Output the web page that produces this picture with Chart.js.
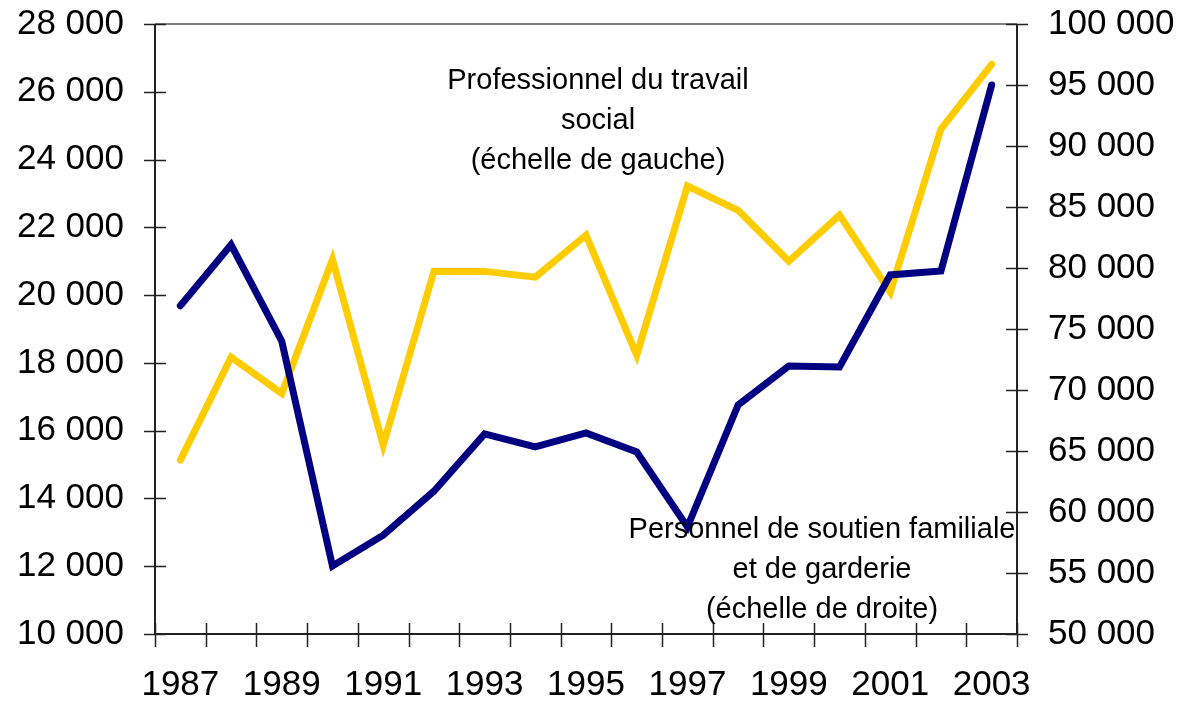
<!DOCTYPE html>
<html>
<head>
<meta charset="utf-8">
<script src="https://cdn.jsdelivr.net/npm/chart.js@4.4.1/dist/chart.umd.min.js"></script>
<style>
    html, body { margin: 0; padding: 0; background: #fff; }
    #wrap { width: 1190px; height: 710px; }
</style>
</head>
<body>
<div id="wrap"><canvas id="chart" width="1190" height="710"></canvas></div>
<script>
const years = ['1987', '1988', '1989', '1990', '1991', '1992', '1993', '1994', '1995',
    '1996', '1997', '1998', '1999', '2000', '2001', '2002', '2003'];

// left scale
const travailSocial = [15130, 18170, 17100, 21050, 15570, 20700, 20700, 20530, 21770,
    18230, 23220, 22500, 21000, 22360, 20090, 24900, 26810];

// right scale
const soutienFamilial = [76900, 81900, 74000, 55570, 58100, 61700, 66400, 65330, 66480,
    64920, 58770, 68770, 71970, 71890, 79430, 79750, 95000];

const leftTicks = { min: 10000, max: 28000, step: 2000 };
const rightTicks = { min: 50000, max: 100000, step: 5000 };

const notes = [
    { lines: ['Professionnel du travail', 'social', '(échelle de gauche)'], x: 598, y: 81 },
    { lines: ['Personnel de soutien familiale', 'et de garderie', '(échelle de droite)'], x: 822, y: 530 }
];

function spaced(v) {
    return String(v).replace(/\B(?=(\d{3})+(?!\d))/g, ' ');
}

const font = '"Liberation Sans", Arial, sans-serif';

// axis lines, crossing ticks, top border and the text notes
const framePlugin = {
    id: 'frame',
    afterDatasetsDraw(chart) {
        const ctx = chart.ctx;
        const a = chart.chartArea;
        const yl = chart.scales.yL, yr = chart.scales.yR;
        ctx.save();

        ctx.strokeStyle = '#808080';
        ctx.lineWidth = 2;
        ctx.beginPath();
        ctx.moveTo(a.left, a.top);
        ctx.lineTo(a.right, a.top);
        ctx.stroke();

        ctx.strokeStyle = '#222';
        ctx.lineWidth = 2;
        ctx.beginPath();
        ctx.moveTo(a.left, a.top);
        ctx.lineTo(a.left, a.bottom);
        ctx.moveTo(a.right, a.top);
        ctx.lineTo(a.right, a.bottom);
        ctx.moveTo(a.left, a.bottom);
        ctx.lineTo(a.right, a.bottom);
        ctx.stroke();

        ctx.lineWidth = 1.5;
        ctx.beginPath();
        for (let v = leftTicks.min; v <= leftTicks.max; v += leftTicks.step) {
            const y = Math.round(yl.getPixelForValue(v)) + 0.5;
            ctx.moveTo(a.left - 11, y);
            ctx.lineTo(a.left + 11, y);
        }
        for (let v = rightTicks.min; v <= rightTicks.max; v += rightTicks.step) {
            const y = Math.round(yr.getPixelForValue(v)) + 0.5;
            ctx.moveTo(a.right - 11, y);
            ctx.lineTo(a.right + 11, y);
        }
        const n = years.length;
        const w = (a.right - a.left) / n;
        for (let i = 0; i <= n; i++) {
            const x = Math.round(a.left + i * w) + 0.5;
            ctx.moveTo(x, a.bottom - 11);
            ctx.lineTo(x, a.bottom + 13);
        }
        ctx.stroke();

        ctx.fillStyle = '#000';
        ctx.font = '29px ' + font;
        ctx.textAlign = 'center';
        ctx.textBaseline = 'middle';
        notes.forEach(note => {
            note.lines.forEach((line, i) => {
                ctx.fillText(line, note.x, note.y + i * 40);
            });
        });
        ctx.restore();
    }
};

const ctx = document.getElementById('chart').getContext('2d');

new Chart(ctx, {
    type: 'line',
    data: {
        labels: years,
        datasets: [{
            label: 'Personnel de soutien familiale et de garderie',
            data: soutienFamilial,
            yAxisID: 'yR',
            borderColor: '#000080',
            borderWidth: 7,
            pointRadius: 0,
            borderCapStyle: 'round',
            borderJoinStyle: 'miter',
            tension: 0
        }, {
            label: 'Professionnel du travail social',
            data: travailSocial,
            yAxisID: 'yL',
            borderColor: '#FFCC00',
            borderWidth: 7,
            pointRadius: 0,
            borderCapStyle: 'round',
            borderJoinStyle: 'miter',
            tension: 0
        }]
    },
    options: {
        responsive: false,
        animation: false,
        layout: { padding: 0 },
        plugins: {
            legend: { display: false },
            tooltip: { enabled: false }
        },
        scales: {
            x: {
                type: 'category',
                offset: true,
                grid: { display: false, drawTicks: false },
                border: { display: false },
                ticks: {
                    autoSkip: false,
                    maxRotation: 0,
                    padding: 30,
                    color: '#000',
                    font: { family: font, size: 35 },
                    callback: (v, i) => (i % 2 === 0 ? years[i] : '')
                },
                afterFit: s => { s.height = 76; }
            },
            yL: {
                position: 'left',
                min: leftTicks.min,
                max: leftTicks.max,
                grid: { display: false, drawTicks: false },
                border: { display: false },
                ticks: {
                    stepSize: leftTicks.step,
                    padding: 31,
                    color: '#000',
                    font: { family: font, size: 35 },
                    callback: v => spaced(v)
                },
                afterFit: s => { s.width = 155; s.paddingTop = 24; }
            },
            yR: {
                position: 'right',
                min: rightTicks.min,
                max: rightTicks.max,
                grid: { display: false, drawTicks: false },
                border: { display: false },
                ticks: {
                    stepSize: rightTicks.step,
                    padding: 31,
                    color: '#000',
                    font: { family: font, size: 35 },
                    callback: v => spaced(v)
                },
                afterFit: s => { s.width = 173; s.paddingTop = 24; }
            }
        }
    },
    plugins: [framePlugin]
});
</script>
</body>
</html>
